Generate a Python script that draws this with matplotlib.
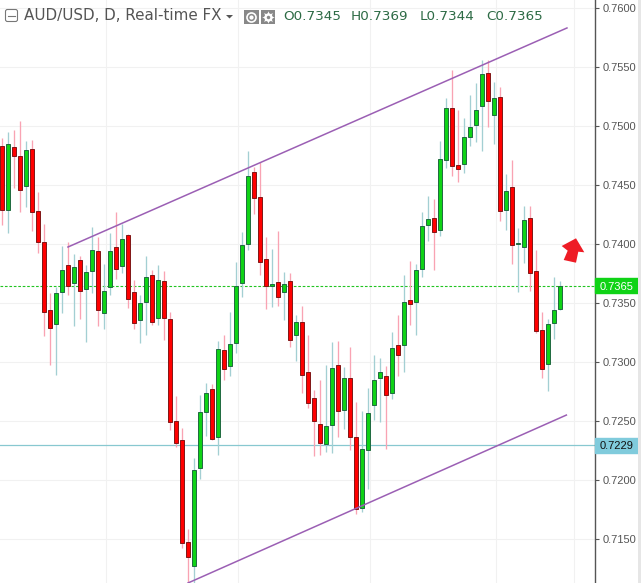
import numpy as np
import matplotlib
matplotlib.use('Agg')
import matplotlib.pyplot as plt
from matplotlib.patches import Polygon, Rectangle, FancyBboxPatch

opens = [.74830, .74288, .74822, .74746, .74491, .74805, .74279, .74017, .73440, .73322,
         .73593, .73822, .73669, .73864, .73618, .73771, .73940, .73415, .73635, .73974,
         .73813, .74076, .73593, .73356, .73508, .73737, .73373, .73686, .73364, .72500,
         .72339, .71474, .71271, .72102, .72581, .72771, .72364, .73102, .72966, .73161,
         .73670, .74000, .74610, .74398, .73873, .73644, .73678, .73593, .73686, .73229,
         .73339, .72915, .72695, .72475, .72305, .72466, .72975, .72593, .72864, .72364,
         .71763, .72254, .72636, .72864, .72881, .72737, .73144, .73144, .73525, .73508,
         .73788, .74161, .74220, .74119, .74712, .75153, .74670, .74678, .74907, .75009,
         .75170, .75449, .75093, .75246, .74288, .74483, .74000, .73975, .74220, .73771,
         .73271, .72983, .73331, .73450]
closes = [.74288, .74847, .74746, .74457, .74796, .74271, .74017, .73423, .73288, .73584,
          .73779, .73644, .73805, .73601, .73762, .73949, .73440, .73601, .73940, .73788,
          .74042, .73534, .73330, .73500, .73720, .73339, .73695, .73373, .72491, .72314,
          .71466, .71347, .72085, .72576, .72737, .72347, .73110, .72941, .73153, .73647,
          .73992, .74576, .74390, .73848, .73644, .73661, .73551, .73661, .73186, .73339,
          .72890, .72653, .72500, .72314, .72458, .72949, .72585, .72864, .72364, .71754,
          .72263, .72568, .72847, .72915, .72720, .73119, .73059, .73508, .73492, .73780,
          .74153, .74212, .74102, .74720, .75153, .74661, .74636, .74907, .74992, .75136,
          .75441, .75212, .75237, .74280, .74449, .73992, .74007, .74203, .73754, .73263,
          .72941, .73322, .73441, .73650]
highs = [.74904, .74952, .74969, .75045, .74873, .74884, .74440, .74169, .73584, .73638,
         .73986, .74017, .73918, .73898, .73822, .74147, .74059, .73833, .74093, .74274,
         .74169, .74085, .73695, .73568, .73898, .73779, .73822, .73771, .73424, .72714,
         .72443, .71587, .72186, .72723, .72822, .72816, .73181, .73229, .73424, .73850,
         .74102, .74788, .74653, .74695, .74059, .73958, .74110, .73763, .73754, .73398,
         .73475, .73229, .72765, .72847, .72975, .73170, .73178, .72958, .73127, .72664,
         .72587, .72780, .73062, .73036, .72969, .73257, .73398, .73737, .73856, .73831,
         .74271, .74409, .74381, .74876, .75240, .75477, .75136, .75068, .75263, .75367,
         .75562, .75562, .75373, .75331, .74593, .74712, .74136, .74322, .74322, .73949,
         .73424, .73364, .73720, .73690]
lows = [.74164, .74099, .74480, .74277, .74319, .74116, .73929, .73226, .72980, .72895,
        .73421, .73573, .73310, .73370, .73175, .73590, .73310, .73285, .73573, .73709,
        .73760, .73463, .73285, .73166, .73234, .73319, .73319, .73192, .72426, .72285,
        .71429, .71138, .71130, .72011, .72375, .72342, .72217, .72853, .72886, .73081,
        .73556, .73954, .74259, .73742, .73454, .73471, .73480, .73361, .73132, .73014,
        .72742, .72613, .72208, .72217, .72242, .72234, .72364, .72437, .72259, .71712,
        .71731, .71926, .72511, .72494, .72265, .72689, .72884, .72918, .73316, .73231,
        .73723, .74028, .73782, .74070, .74647, .74581, .74531, .74607, .74833, .74870,
        .74793, .74997, .74853, .74200, .74121, .73831, .73598, .73844, .73607, .73248,
        .72869, .72759, .73200, .73440]

price_ticks = [.7150, .7200, .7250, .7300, .7350, .7400, .7450, .7500, .7550, .7600]
date_grid = [17.2, 39.2, 61.2, 82.2, 95.2]
upper_x = [10.94, 94.1]
upper_y = [.73977, .75833]
lower_x = [30.94, 94.0]
lower_y = [.71130, .72553]
last_price = .7365
support_price = .72296
header_values = ['O0.7345', 'H0.7369', 'L0.7344', 'C0.7365']

plt.rcParams['font.family'] = ['DejaVu Sans']

W, H = 641, 583
fig = plt.figure(figsize=(W / 100, H / 100), dpi=100)
ax = fig.add_axes([0, 0, 594.5 / W, 1])
ax.set_xlim(-0.388, 98.69)
ax.set_ylim(.71130, .76070)

ax.set_yticks(price_ticks)
ax.set_yticklabels(['%.4f' % p for p in price_ticks], family='Liberation Sans', fontsize=8, color='#555555')
ax.yaxis.tick_right()
ax.tick_params(axis='y', length=3, width=0.8, color='#555555', pad=2.5)
ax.set_xticks(date_grid)
ax.set_xticklabels([])
ax.tick_params(axis='x', length=0)
ax.grid(True, color='#f1f1f1', lw=0.8)
ax.set_axisbelow(True)
for side in ['left', 'top', 'bottom']:
    ax.spines[side].set_visible(False)
ax.spines['right'].set_color('#555555')
ax.spines['right'].set_linewidth(1.0)

ax.axhline(support_price, color='#88c8d0', lw=0.9, zorder=1)
ax.axhline(last_price, color='#22c422', lw=0.8, dashes=(2.4, 1.6), zorder=1)

idx = np.arange(len(opens))
opens = np.array(opens)
closes = np.array(closes)
highs = np.array(highs)
lows = np.array(lows)
up = closes >= opens

ax.vlines(idx[up], lows[up], highs[up], color='#a3cfd3', lw=0.95, zorder=2)
ax.vlines(idx[~up], lows[~up], highs[~up], color='#f9a3b3', lw=0.95, zorder=2)
ax.bar(idx[up], (closes - opens)[up], bottom=opens[up], width=0.68, color='#0fd316',
       edgecolor='#1f6a40', lw=0.7, zorder=3)
ax.bar(idx[~up], (closes - opens)[~up], bottom=opens[~up], width=0.68, color='#ff0000',
       edgecolor='#801616', lw=0.7, zorder=3)

ax.plot(upper_x, upper_y, color='#9b5fb4', lw=1.1, zorder=4)
ax.plot(lower_x, lower_y, color='#9b5fb4', lw=1.1, zorder=4)

# price labels on the scale
ytr = ax.get_yaxis_transform()
box_w = 43.5 / 594.5
box_h = 15.5 / H * (.76070 - .71130)
ax.add_patch(Rectangle((1, last_price - box_h / 2), box_w, box_h, transform=ytr, color='#0fd316',
                       clip_on=False, zorder=5))
ax.text(1 + 21.7 / 594.5, last_price, '0.7365', transform=ytr, ha='center', va='center_baseline',
        family='Liberation Sans', fontsize=8, color='white', zorder=6)
ax.add_patch(Rectangle((1, support_price - box_h / 2), box_w, box_h, transform=ytr, color='#80cbdc',
                       clip_on=False, zorder=5))
ax.text(1 + 21.7 / 594.5, support_price, '0.7229', transform=ytr, ha='center', va='center_baseline',
        family='Liberation Sans', fontsize=8, color='#111111', zorder=6)

# header, arrow and side strip in pixel coordinates
ov = fig.add_axes([0, 0, 1, 1], facecolor='none')
ov.set_xlim(0, W)
ov.set_ylim(H, 0)
ov.axis('off')
ov.add_patch(Rectangle((638, 0), 3, H, color='#e6e6e6', lw=0))
ov.add_patch(Polygon([(576, 238.3), (561.7, 246), (567.7, 250.7), (563.7, 260), (576, 262.7),
                      (578.3, 251.7), (584.3, 252.3)], closed=True, color='#ee1c25', lw=0))

ov.add_patch(FancyBboxPatch((5.5, 9.5), 12, 12, boxstyle='round,pad=0,rounding_size=2', fc='white',
                            ec='#777777', lw=0.8))
ov.plot([8, 15], [15.5, 15.5], color='#777777', lw=0.8)
ov.text(24, 16, 'AUD/USD, D, Real-time FX', fontsize=10.9, color='#555555', va='center', ha='left')
ov.add_patch(Polygon([(226, 15), (233, 15), (229.5, 18.5)], closed=True, color='#555555', lw=0))
ov.add_patch(Rectangle((244, 10), 14.5, 14, color='#888888', lw=0))
ov.add_patch(Rectangle((260.7, 10), 14.5, 14, color='#888888', lw=0))
ov.plot([251.2], [17], 'o', ms=6.5, mfc='none', mec='white', mew=1.2)
ov.plot([251.2], [17], 'o', ms=2, color='white')
ov.plot([268], [17], marker=(8, 1, 0), ms=9, color='white', mew=0)
ov.plot([268], [17], 'o', ms=6, color='white', mew=0)
ov.plot([268], [17], 'o', ms=2.5, color='#888888', mew=0)
for s, x in zip(header_values, [283.5, 351, 420, 486]):
    ov.text(x, 17, s, fontsize=9.7, color='#2d6b45', va='center', ha='left')

fig.savefig('out.png', dpi=100)
